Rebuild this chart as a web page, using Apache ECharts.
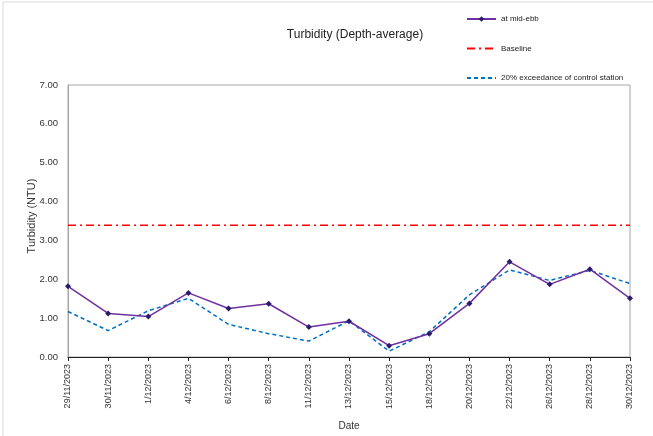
<!DOCTYPE html>
<html>
<head>
<meta charset="utf-8">
<script src="https://cdn.jsdelivr.net/npm/echarts@6/dist/echarts.min.js"></script>
<style>
  html, body { margin: 0; padding: 0; background: #fff; }
  #chart { width: 653px; height: 436px; }
</style>
</head>
<body>
<div id="chart"></div>
<script>
// Sampling dates
const dates = ['29/11/2023', '30/11/2023', '1/12/2023', '4/12/2023', '6/12/2023', '8/12/2023',
  '11/12/2023', '13/12/2023', '15/12/2023', '18/12/2023', '20/12/2023', '22/12/2023',
  '26/12/2023', '28/12/2023', '30/12/2023'];

// Depth-averaged turbidity at mid-ebb (NTU)
const midEbb = [1.82, 1.12, 1.04, 1.65, 1.25, 1.37, 0.77, 0.92, 0.29, 0.60, 1.38, 2.45, 1.87, 2.26, 1.51];

// 20% exceedance of control station (NTU)
const exceedance = [1.17, 0.68, 1.19, 1.51, 0.84, 0.60, 0.41, 0.93, 0.15, 0.65, 1.60, 2.24, 1.97, 2.23, 1.89];

// Baseline level (NTU)
const baselineValue = 3.39;
const baseline = dates.map(() => baselineValue);

// Y axis ticks
const yMin = 0, yMax = 7, yStep = 1;

const font = 'Liberation Sans, Arial, sans-serif';
const chart = echarts.init(document.getElementById('chart'), null, { renderer: 'canvas' });

chart.setOption({
  animation: false,
  backgroundColor: '#fff',
  textStyle: { fontFamily: font },
  graphic: [{
    type: 'rect',
    shape: { x: 3, y: 2, width: 660, height: 450 },
    style: { fill: 'none', stroke: '#d9d9d9', lineWidth: 1 },
    silent: true
  }],
  title: {
    text: 'Turbidity (Depth-average)',
    left: 350, top: 24, textAlign: 'center',
    textStyle: { fontSize: 12, fontWeight: 'normal', color: '#222', fontFamily: font }
  },
  legend: {
    orient: 'vertical',
    left: 466, top: 15, padding: 0,
    itemWidth: 29, itemHeight: 7, itemGap: 21.5,
    textStyle: { fontSize: 8, color: '#222', fontFamily: font },
    data: [
      { name: 'at mid-ebb' },
      { name: 'Baseline', itemStyle: { opacity: 0 } },
      { name: '20% exceedance of control station', itemStyle: { opacity: 0 } }
    ]
  },
  grid: {
    left: 68, right: 23, top: 85, bottom: 78,
    show: true, borderColor: '#a6a6a6', borderWidth: 1
  },
  xAxis: {
    type: 'category',
    data: dates,
    boundaryGap: false,
    name: 'Date', nameLocation: 'middle', nameGap: 64,
    nameTextStyle: { fontSize: 10, color: '#333', fontFamily: font },
    axisLine: { lineStyle: { color: '#222', width: 1 } },
    axisTick: { show: true, alignWithLabel: true, length: 4, lineStyle: { color: '#222' } },
    axisLabel: { rotate: 90, fontSize: 9, color: '#333', margin: 7, interval: 0, fontFamily: font },
    splitLine: { show: false }
  },
  yAxis: {
    type: 'value',
    min: yMin, max: yMax, interval: yStep,
    name: 'Turbidity (NTU)', nameLocation: 'middle', nameGap: 31, nameMoveOverlap: false,
    nameTextStyle: { fontSize: 11, color: '#333', fontFamily: font, padding: [0, 0, 0, 10] },
    axisLine: { show: true, lineStyle: { color: '#a6a6a6' } },
    axisTick: { show: false },
    axisLabel: { fontSize: 9.5, color: '#333', margin: 10, formatter: v => v.toFixed(2), fontFamily: font },
    splitLine: { show: false }
  },
  series: [
    {
      name: 'at mid-ebb',
      type: 'line',
      data: midEbb,
      symbol: 'diamond', symbolSize: 6,
      lineStyle: { color: '#7030A0', width: 1.5 },
      itemStyle: { color: '#2A1C6B' },
      z: 4
    },
    {
      name: 'Baseline',
      type: 'line',
      data: baseline,
      symbol: 'none',
      lineStyle: { color: '#FF0000', width: 1.5, type: [8, 4, 2, 4] },
      itemStyle: { color: '#FF0000' },
      z: 2
    },
    {
      name: '20% exceedance of control station',
      type: 'line',
      data: exceedance,
      symbol: 'none',
      lineStyle: { color: '#0070C0', width: 1.5, type: [4, 3] },
      itemStyle: { color: '#0070C0' },
      z: 3
    }
  ]
});
</script>
</body>
</html>
